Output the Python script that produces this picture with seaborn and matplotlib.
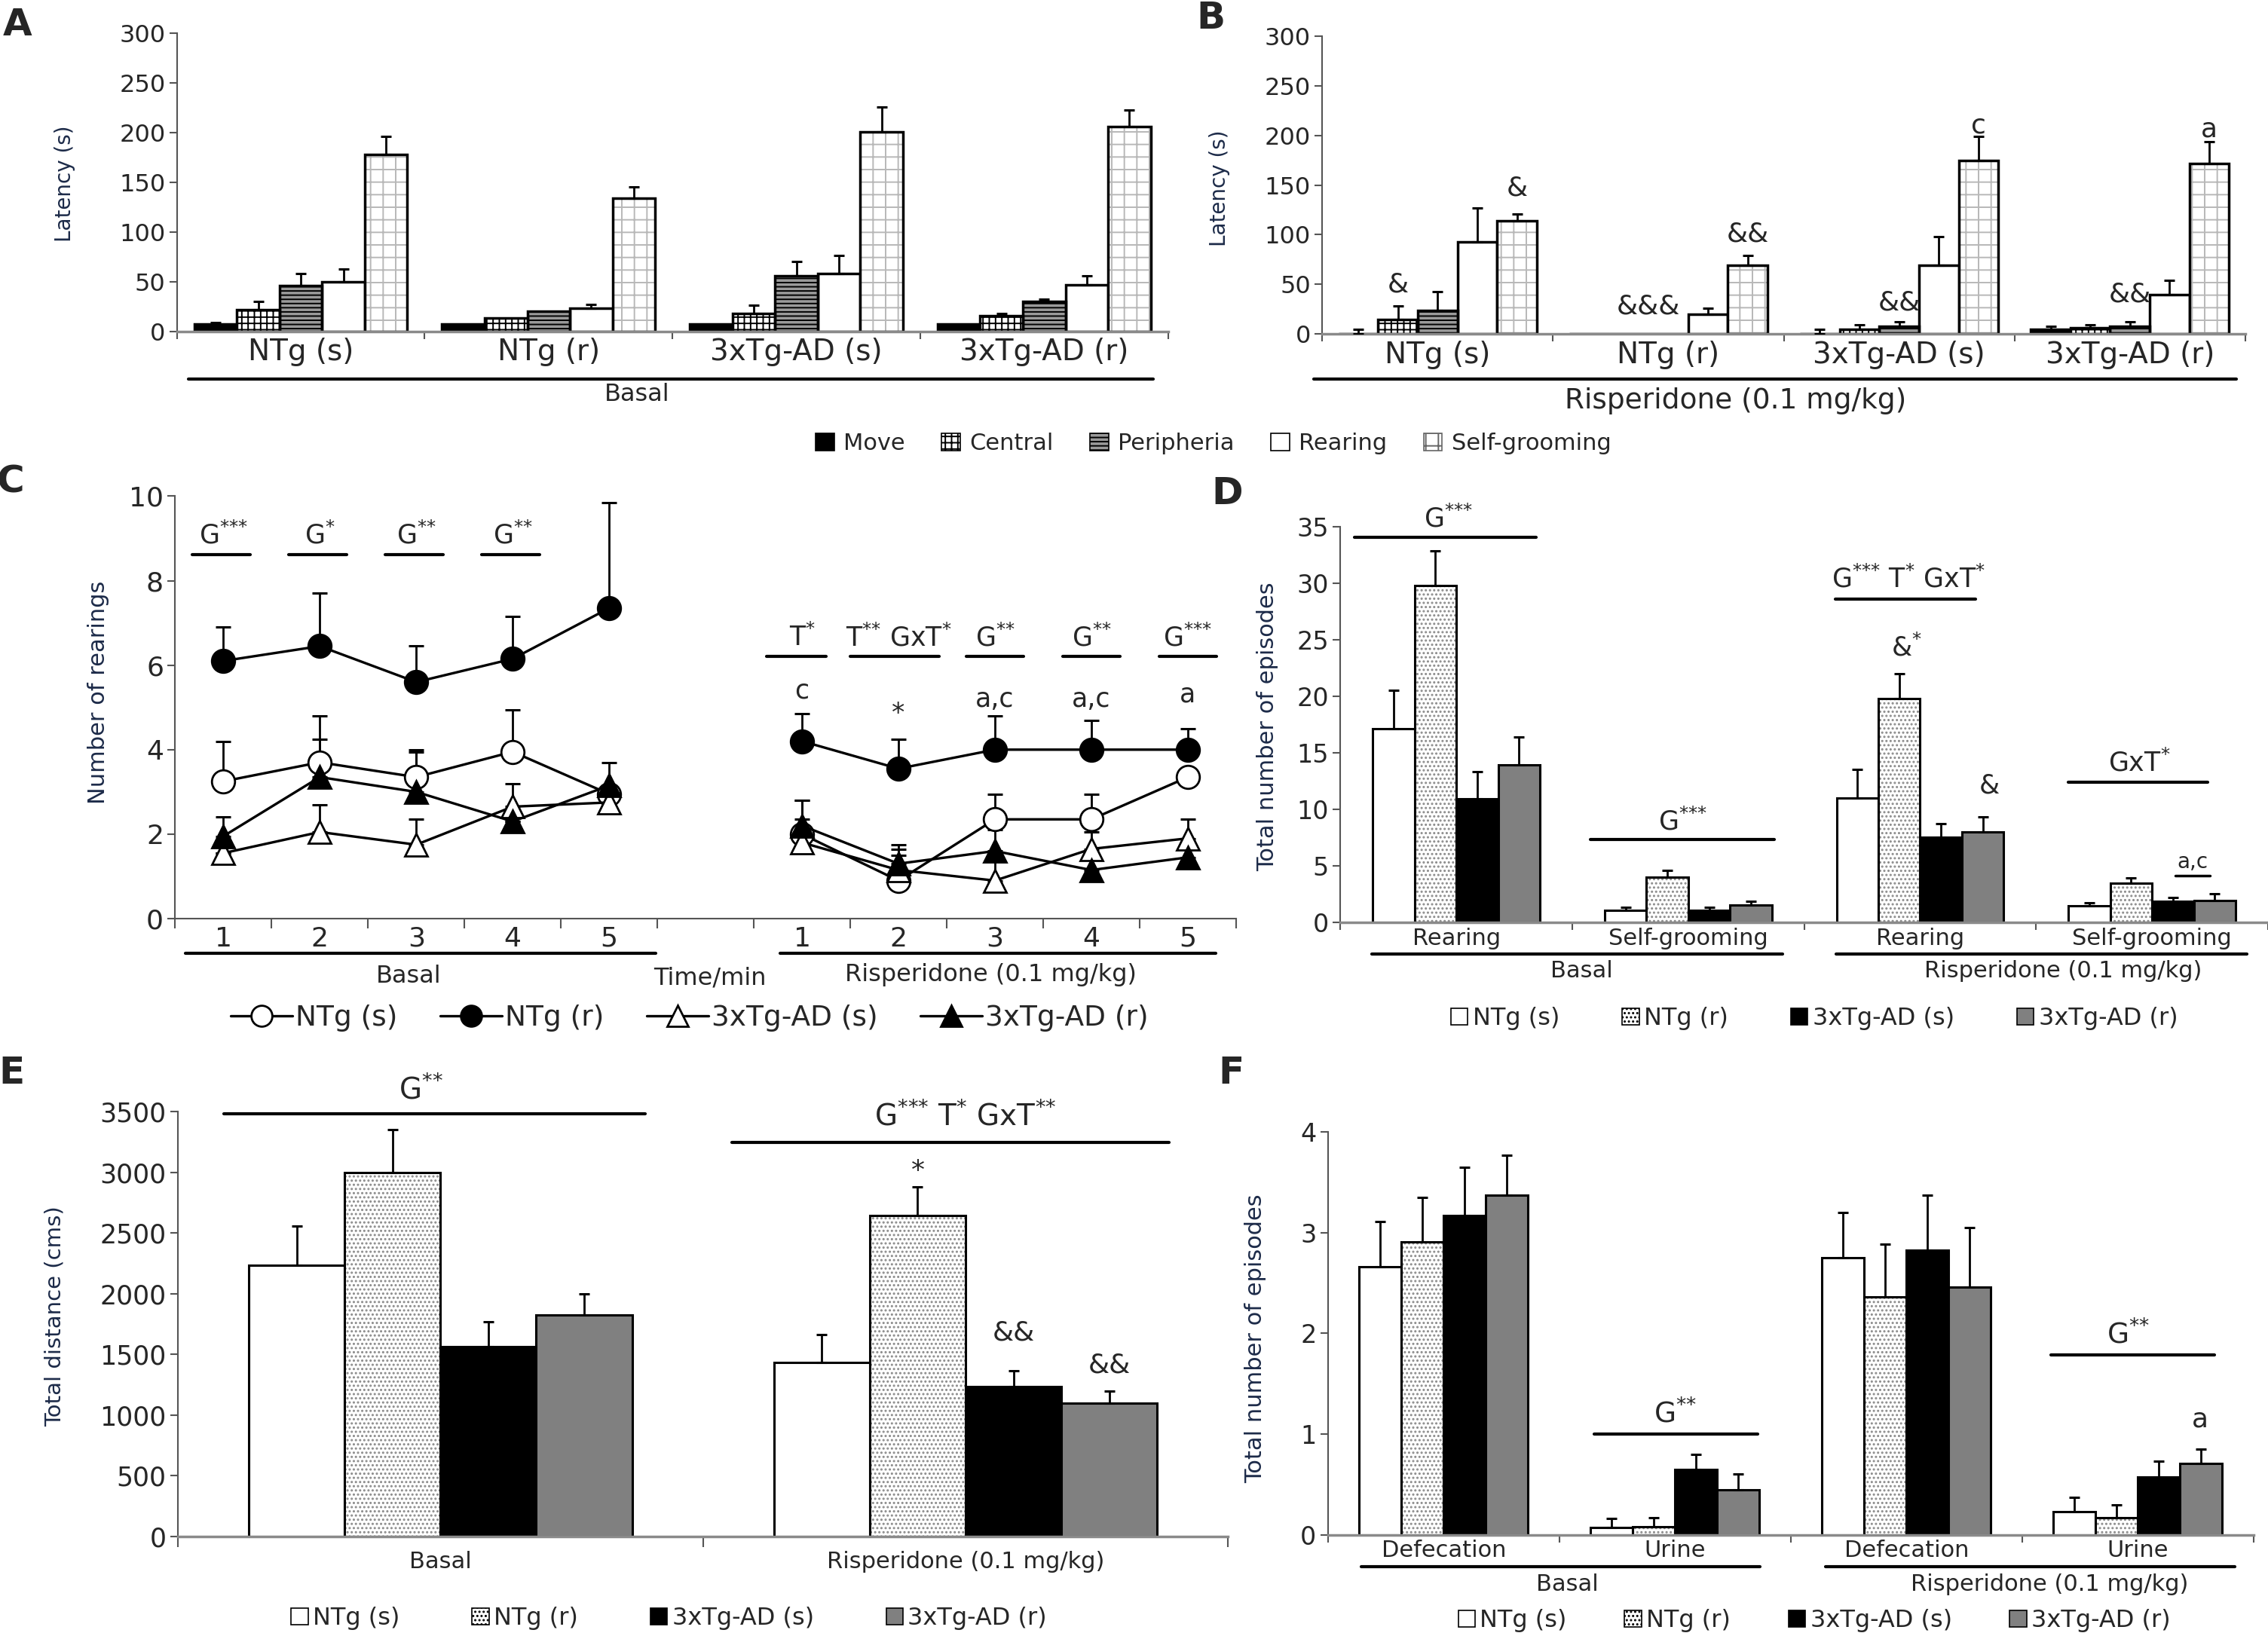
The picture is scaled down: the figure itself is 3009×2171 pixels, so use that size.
import numpy as np
import pandas as pd
import matplotlib
matplotlib.use("Agg")
import matplotlib.pyplot as plt
import seaborn as sns
from matplotlib.patches import Patch, Rectangle
from matplotlib.lines import Line2D

# -------------------------
# Data
# -------------------------
groups = ["NTg (s)", "NTg (r)", "3xTg-AD (s)", "3xTg-AD (r)"]
measures = ["Move", "Central", "Peripheria", "Rearing", "Self-grooming"]

# A - basal latencies, one value per group
basal_move = [7, 7, 7, 7]
basal_central = [22, 13, 18, 16]
basal_peripheria = [46, 20, 56, 30]
basal_rearing = [50, 23, 58, 47]
basal_selfgroom = [178, 134, 201, 206]
basal_move_err = [2, 0, 0, 0]
basal_central_err = [8, 0, 8, 2]
basal_peripheria_err = [12, 0, 14, 2]
basal_rearing_err = [13, 4, 18, 9]
basal_selfgroom_err = [18, 11, 25, 17]

# B - risperidone latencies
risp_move = [0.5, 0, 0.5, 5]
risp_central = [15, 0, 5, 6]
risp_peripheria = [24, 0, 8, 8]
risp_rearing = [93, 20, 69, 40]
risp_selfgroom = [114, 69, 175, 172]
risp_move_err = [4.5, 0, 4.5, 2.5]
risp_central_err = [13, 0, 4.5, 3]
risp_peripheria_err = [19, 0, 4, 4.5]
risp_rearing_err = [34, 6, 29, 14]
risp_selfgroom_err = [7, 10, 24, 22]

# C - rearings per minute
minutes = ["1", "2", "3", "4", "5"]
c_ntg_s_basal = [3.25, 3.7, 3.35, 3.95, 2.95]
c_ntg_r_basal = [6.1, 6.45, 5.6, 6.15, 7.35]
c_ad_s_basal = [1.55, 2.05, 1.75, 2.65, 2.75]
c_ad_r_basal = [1.95, 3.35, 3.0, 2.3, 3.15]
c_ntg_s_basal_err = [0.95, 1.1, 0.6, 1.0, 0.0]
c_ntg_r_basal_err = [0.8, 1.25, 0.85, 1.0, 2.5]
c_ad_s_basal_err = [0.0, 0.65, 0.6, 0.55, 0.0]
c_ad_r_basal_err = [0.45, 0.9, 1.0, 0.0, 0.55]
c_ntg_s_risp = [2.0, 0.9, 2.35, 2.35, 3.35]
c_ntg_r_risp = [4.2, 3.55, 4.0, 4.0, 4.0]
c_ad_s_risp = [1.8, 1.15, 0.9, 1.65, 1.9]
c_ad_r_risp = [2.2, 1.3, 1.6, 1.15, 1.45]
c_ntg_s_risp_err = [0.8, 0.6, 0.6, 0.6, 0.0]
c_ntg_r_risp_err = [0.65, 0.7, 0.8, 0.7, 0.5]
c_ad_s_risp_err = [0.55, 0.5, 0.5, 0.4, 0.45]
c_ad_r_risp_err = [0.6, 0.45, 0.5, 0.4, 0.3]

# D - total number of episodes
d_labels = ["Rearing", "Self-grooming", "Rearing", "Self-grooming"]
d_phase = ["Basal", "Basal", "Risperidone", "Risperidone"]
d_ntg_s = [17.1, 1.05, 11.0, 1.45]
d_ntg_r = [29.8, 4.0, 19.8, 3.45]
d_ad_s = [10.9, 1.05, 7.5, 1.85]
d_ad_r = [13.9, 1.55, 8.0, 1.95]
d_ntg_s_err = [3.4, 0.3, 2.5, 0.25]
d_ntg_r_err = [3.1, 0.6, 2.2, 0.5]
d_ad_s_err = [2.4, 0.3, 1.2, 0.35]
d_ad_r_err = [2.5, 0.3, 1.3, 0.6]

# E - total distance
e_labels = ["Basal", "Risperidone (0.1 mg/kg)"]
e_ntg_s = [2235, 1430]
e_ntg_r = [2995, 2645]
e_ad_s = [1560, 1235]
e_ad_r = [1825, 1095]
e_ntg_s_err = [320, 235]
e_ntg_r_err = [355, 235]
e_ad_s_err = [205, 130]
e_ad_r_err = [170, 100]

# F - defecation / urine
f_labels = ["Defecation", "Urine", "Defecation", "Urine"]
f_phase = ["Basal", "Basal", "Risperidone", "Risperidone"]
f_ntg_s = [2.66, 0.07, 2.75, 0.23]
f_ntg_r = [2.91, 0.08, 2.36, 0.17]
f_ad_s = [3.17, 0.65, 2.83, 0.57]
f_ad_r = [3.37, 0.45, 2.46, 0.71]
f_ntg_s_err = [0.45, 0.09, 0.45, 0.14]
f_ntg_r_err = [0.44, 0.09, 0.53, 0.13]
f_ad_s_err = [0.48, 0.15, 0.54, 0.16]
f_ad_r_err = [0.40, 0.15, 0.59, 0.14]

# -------------------------
# Style
# -------------------------
sns.set_theme(style="ticks")
plt.rcParams["font.family"] = ["DejaVu Sans"]
plt.rcParams["mathtext.default"] = "regular"
plt.rcParams["hatch.linewidth"] = 1.4

LABEL_COL = "#1c2a48"
AXIS_COL = "#555555"

# face, hatch, hatch colour
measure_styles = [("black", None, None),
                  ("white", "++", "black"),
                  ("#9a9a9a", "---", "black"),
                  ("white", None, None),
                  ("white", "+", "#b8b8b8")]
group_styles = [("white", None, None),
                ("white", "...", "#8a8a8a"),
                ("black", None, None),
                ("#808080", None, None)]


def st(n):
    # superscript asterisks without binary-operator spacing
    return "$^{" + "{*}" * n + "}$"


def long_frame(cats, names, values):
    rows = []
    for name, vals in zip(names, values):
        for c, v in zip(cats, vals):
            rows.append((c, name, v))
    return pd.DataFrame(rows, columns=["cat", "series", "value"])


def draw_bars(ax, cats, names, values, errs, styles, width, lw, capsize):
    df = long_frame(cats, names, values)
    pal = {n: s[0] for n, s in zip(names, styles)}
    sns.barplot(data=df, x="cat", y="value", hue="series", order=cats,
                hue_order=names, palette=pal, saturation=1, errorbar=None,
                width=width, legend=False, ax=ax)
    bars = list(ax.containers)
    for cont, (face, hatch, hcol) in zip(bars, styles):
        for p in cont.patches:
            p.set_facecolor(face)
            if hatch:
                p.set_hatch(hatch)
                p.set_edgecolor(hcol)
                p.set_linewidth(0)
                ax.add_patch(Rectangle(p.get_xy(), p.get_width(), p.get_height(),
                                       fill=False, edgecolor="black", linewidth=lw,
                                       zorder=p.get_zorder() + 0.1))
            else:
                p.set_edgecolor("black")
                p.set_linewidth(lw)
    for cont, err in zip(bars, errs):
        xs = np.array([p.get_x() + p.get_width() / 2 for p in cont.patches])
        ys = np.array([p.get_height() for p in cont.patches])
        e = np.asarray(err, float)
        m = e > 0
        if m.any():
            ax.errorbar(xs[m], ys[m], yerr=[np.zeros(m.sum()), e[m]], fmt="none",
                        ecolor="black", elinewidth=2, capsize=capsize, capthick=2.2,
                        zorder=4)
    return bars


def style_axes(ax, n, ylim, yticks, tick_fs, sep_len=7):
    ax.set_ylim(*ylim)
    ax.set_yticks(yticks)
    ax.set_xlim(-0.5, n - 0.5)
    ax.set_xticks(range(n))
    ax.set_xticklabels([])
    ax.set_xticks(np.arange(-0.5, n), minor=True)
    ax.tick_params(axis="x", which="major", length=0)
    ax.tick_params(axis="x", which="minor", length=sep_len, width=1.5,
                   color=AXIS_COL, direction="out")
    ax.tick_params(axis="y", labelsize=tick_fs, length=7, width=1.5,
                   color=AXIS_COL, direction="out", pad=4)
    ax.set_xlabel("")
    ax.set_ylabel("")
    for s in ["top", "right"]:
        ax.spines[s].set_visible(False)
    ax.spines["left"].set_color(AXIS_COL)
    ax.spines["left"].set_linewidth(1.5)
    ax.spines["bottom"].set_color("#8a8a8a")
    ax.spines["bottom"].set_linewidth(2.5)


def under_line(ax, x0, x1, y, lw=2.5):
    ax.plot([x0, x1], [y, y], color="black", lw=lw, transform=ax.transAxes,
            clip_on=False)


def sig_line(ax, x0, x1, y, lw=2.5):
    ax.plot([x0, x1], [y, y], color="black", lw=lw, clip_on=False)


fig = plt.figure(figsize=(30.09, 21.71), dpi=100)

# -------------------------
# Panel A
# -------------------------
ax_a = fig.add_axes([0.078, 0.7975, 0.437, 0.1822])
draw_bars(ax_a, groups, measures,
          [basal_move, basal_central, basal_peripheria, basal_rearing, basal_selfgroom],
          [basal_move_err, basal_central_err, basal_peripheria_err, basal_rearing_err,
           basal_selfgroom_err],
          measure_styles, 0.86, 2.5, 5)
style_axes(ax_a, 4, (0, 300), range(0, 301, 50), 23)
for i, g in enumerate(groups):
    ax_a.text(i, -0.07, g, transform=ax_a.get_xaxis_transform(), ha="center",
              va="center", fontsize=28)
under_line(ax_a, 0.012, 0.985, -0.16, 3)
ax_a.text(0.464, -0.212, "Basal", transform=ax_a.transAxes, ha="center",
          va="center", fontsize=23)

# -------------------------
# Panel B
# -------------------------
ax_b = fig.add_axes([0.583, 0.7958, 0.407, 0.1822])
b_bars = draw_bars(ax_b, groups, measures,
                   [risp_move, risp_central, risp_peripheria, risp_rearing, risp_selfgroom],
                   [risp_move_err, risp_central_err, risp_peripheria_err, risp_rearing_err,
                    risp_selfgroom_err],
                   measure_styles, 0.86, 2.5, 5)
style_axes(ax_b, 4, (0, 300), range(0, 301, 50), 23)
for i, g in enumerate(groups):
    ax_b.text(i, -0.07, g, transform=ax_b.get_xaxis_transform(), ha="center",
              va="center", fontsize=28)
under_line(ax_b, -0.009, 0.99, -0.15, 3)
ax_b.text(0.448, -0.225, "Risperidone (0.1 mg/kg)", transform=ax_b.transAxes,
          ha="center", va="center", fontsize=27)
b_marks = [(0, 1, "&", 50, 0), (0, 4, "&", 147, 0), (1, 2, "&&&", 28, -0.5),
           (1, 4, "&&", 101, 0), (2, 2, "&&", 32, 0), (2, 4, "c", 210, 0),
           (3, 2, "&&", 40, 0), (3, 4, "a", 206, 0)]
for gi, mi, txt, yv, dx in b_marks:
    p = b_bars[mi].patches[gi]
    ax_b.text(p.get_x() + p.get_width() * (0.5 + dx), yv, txt, ha="center",
              va="center", fontsize=26)

# legend for A/B
ab_handles = [Patch(facecolor=f, edgecolor=(h_c if h else "black"), hatch=h, linewidth=1.2)
              for f, h, h_c in measure_styles]
ab_handles[4] = Patch(facecolor="white", edgecolor="#666666", hatch="+", linewidth=1.2)
fig.legend(ab_handles, measures, loc="center", bbox_to_anchor=(0.535, 0.729),
           ncol=5, frameon=False, fontsize=22, handlelength=0.8, handleheight=0.8,
           handletextpad=0.4, columnspacing=1.6)

# -------------------------
# Panel C
# -------------------------
ax_c = fig.add_axes([0.0772, 0.4385, 0.4678, 0.2582])
pos_basal = [0, 1, 2, 3, 4]
pos_risp = [6, 7, 8, 9, 10]
c_series = [
    ("NTg (s)", c_ntg_s_basal, c_ntg_s_risp, c_ntg_s_basal_err, c_ntg_s_risp_err, "o", "white"),
    ("NTg (r)", c_ntg_r_basal, c_ntg_r_risp, c_ntg_r_basal_err, c_ntg_r_risp_err, "o", "black"),
    ("3xTg-AD (s)", c_ad_s_basal, c_ad_s_risp, c_ad_s_basal_err, c_ad_s_risp_err, "^", "white"),
    ("3xTg-AD (r)", c_ad_r_basal, c_ad_r_risp, c_ad_r_basal_err, c_ad_r_risp_err, "^", "black"),
]
for name, vb, vr, eb, er, mk, mf in c_series:
    df = pd.DataFrame({"pos": pos_basal + pos_risp, "value": vb + vr,
                       "phase": ["Basal"] * 5 + ["Risperidone"] * 5})
    ax_c.errorbar(df["pos"], df["value"],
                  yerr=[np.zeros(10), np.array(eb + er, float)], fmt="none",
                  ecolor="black", elinewidth=2, capsize=7, capthick=2.2, zorder=2)
    sns.lineplot(data=df, x="pos", y="value", units="phase", estimator=None,
                 color="black", linewidth=2.4, marker=mk, markersize=22,
                 markerfacecolor=mf, markeredgecolor="black", markeredgewidth=2,
                 legend=False, ax=ax_c, zorder=3)
ax_c.set_ylim(0, 10)
ax_c.set_yticks(range(0, 11, 2))
ax_c.set_xlim(-0.5, 10.5)
ax_c.set_xticks(pos_basal + pos_risp)
ax_c.set_xticklabels([])
ax_c.set_xticks(np.arange(-0.5, 11), minor=True)
ax_c.tick_params(axis="x", which="major", length=0)
ax_c.tick_params(axis="x", which="minor", length=9, width=1.5, color=AXIS_COL)
ax_c.tick_params(axis="y", labelsize=26, length=7, width=1.5, color=AXIS_COL, pad=4)
ax_c.set_xlabel("")
ax_c.set_ylabel("")
for s in ["top", "right"]:
    ax_c.spines[s].set_visible(False)
for s in ["left", "bottom"]:
    ax_c.spines[s].set_color(AXIS_COL)
    ax_c.spines[s].set_linewidth(1.5)
for p, m in zip(pos_basal + pos_risp, minutes + minutes):
    ax_c.text(p, -0.048, m, transform=ax_c.get_xaxis_transform(), ha="center",
              va="center", fontsize=26)
under_line(ax_c, 0.0095, 0.453, -0.082, 3)
under_line(ax_c, 0.570, 0.981, -0.082, 3)
ax_c.text(0.22, -0.136, "Basal", transform=ax_c.transAxes, ha="center", va="center",
          fontsize=23)
ax_c.text(0.769, -0.132, "Risperidone (0.1 mg/kg)", transform=ax_c.transAxes,
          ha="center", va="center", fontsize=23)
fig.text(0.313, 0.4023, "Time/min", ha="center", va="center", fontsize=23)
c_basal_sig = [(0, "G" + st(3)), (1, "G" + st(1)), (2, "G" + st(2)), (3, "G" + st(2))]
for p, t in c_basal_sig:
    sig_line(ax_c, p - 0.32, p + 0.28, 8.62, 3)
    ax_c.text(p, 8.75, t, ha="center", va="bottom", fontsize=25)
c_risp_sig = [(6, "T" + st(1), -0.37, 0.25),
              (7, "T" + st(2) + " GxT" + st(1), -0.5, 0.42),
              (8, "G" + st(2), -0.3, 0.3), (9, "G" + st(2), -0.3, 0.3),
              (10, "G" + st(3), -0.3, 0.3)]
for p, t, a, b in c_risp_sig:
    sig_line(ax_c, p + a, p + b, 6.2, 3)
    ax_c.text(p, 6.33, t, ha="center", va="bottom", fontsize=25)
c_letters = [(6, "c", 5.4), (7, "*", 4.85), (8, "a,c", 5.2), (9, "a,c", 5.2), (10, "a", 5.3)]
for p, t, yv in c_letters:
    ax_c.text(p, yv, t, ha="center", va="center", fontsize=25)
c_handles = [Line2D([0], [0], color="black", lw=2.4, marker=s[5], markersize=20,
                    markerfacecolor=s[6], markeredgecolor="black", markeredgewidth=2)
             for s in c_series]
fig.legend(c_handles, [s[0] for s in c_series], loc="center",
           bbox_to_anchor=(0.304, 0.3775), ncol=4, frameon=False, fontsize=27,
           handlelength=2.2, handletextpad=0.1, columnspacing=1.5)

# -------------------------
# Panel D
# -------------------------
ax_d = fig.add_axes([0.591, 0.4363, 0.409, 0.2417])
d_keys = [f"{p}|{l}" for p, l in zip(d_phase, d_labels)]
draw_bars(ax_d, d_keys, groups, [d_ntg_s, d_ntg_r, d_ad_s, d_ad_r],
          [d_ntg_s_err, d_ntg_r_err, d_ad_s_err, d_ad_r_err],
          group_styles, 0.72, 2.2, 5)
style_axes(ax_d, 4, (0, 35), range(0, 36, 5), 24)
for i, l in enumerate(d_labels):
    ax_d.text(i, -0.042, l, transform=ax_d.get_xaxis_transform(), ha="center",
              va="center", fontsize=22)
under_line(ax_d, 0.0335, 0.477, -0.08, 3)
under_line(ax_d, 0.534, 0.977, -0.08, 3)
ax_d.text(0.26, -0.124, "Basal", transform=ax_d.transAxes, ha="center", va="center",
          fontsize=22)
ax_d.text(0.779, -0.124, "Risperidone (0.1 mg/kg)", transform=ax_d.transAxes,
          ha="center", va="center", fontsize=22)
sig_line(ax_d, -0.44, 0.345, 34.1, 3)
ax_d.text(-0.035, 34.5, "G" + st(3), ha="center", va="bottom", fontsize=25)
sig_line(ax_d, 0.578, 1.37, 7.3, 3)
ax_d.text(0.975, 7.7, "G" + st(3), ha="center", va="bottom", fontsize=25)
sig_line(ax_d, 1.635, 2.24, 28.6, 3)
ax_d.text(1.95, 29.2, "G" + st(3) + " T" + st(1) + " GxT" + st(1), ha="center",
          va="bottom", fontsize=25)
ax_d.text(1.94, 24.3, "&" + st(1), ha="center", va="center", fontsize=25)
ax_d.text(2.30, 12.1, "&", ha="center", va="center", fontsize=25)
sig_line(ax_d, 2.64, 3.24, 12.4, 3)
ax_d.text(2.945, 12.9, "GxT" + st(1), ha="center", va="bottom", fontsize=25)
sig_line(ax_d, 3.1, 3.25, 4.15, 2.5)
ax_d.text(3.175, 4.4, "a,c", ha="center", va="bottom", fontsize=20)

grp_handles = [Patch(facecolor=f, edgecolor="black", hatch=h, linewidth=1.2)
               for f, h, _ in group_styles]
fig.legend(grp_handles, groups, loc="center", bbox_to_anchor=(0.80, 0.3775),
           ncol=4, frameon=False, fontsize=23, handlelength=0.7, handleheight=0.7,
           handletextpad=0.2, columnspacing=2.6)

# -------------------------
# Panel E
# -------------------------
ax_e = fig.add_axes([0.0784, 0.061, 0.4631, 0.2595])
draw_bars(ax_e, e_labels, groups, [e_ntg_s, e_ntg_r, e_ad_s, e_ad_r],
          [e_ntg_s_err, e_ntg_r_err, e_ad_s_err, e_ad_r_err],
          group_styles, 0.73, 2.2, 5)
style_axes(ax_e, 2, (0, 3500), range(0, 3501, 500), 25, sep_len=10)
for i, l in enumerate(e_labels):
    ax_e.text(i, -0.06, l, transform=ax_e.get_xaxis_transform(), ha="center",
              va="center", fontsize=22)
sig_line(ax_e, -0.412, 0.39, 3480, 3)
ax_e.text(-0.037, 3560, "G" + st(2), ha="center", va="bottom", fontsize=28)
sig_line(ax_e, 0.555, 1.387, 3245, 3)
ax_e.text(1.0, 3340, "G" + st(3) + " T" + st(1) + " GxT" + st(2), ha="center",
          va="bottom", fontsize=28)
ax_e.text(0.909, 3010, "*", ha="center", va="center", fontsize=26)
ax_e.text(1.091, 1680, "&&", ha="center", va="center", fontsize=26)
ax_e.text(1.274, 1410, "&&", ha="center", va="center", fontsize=26)
fig.legend(grp_handles, groups, loc="center", bbox_to_anchor=(0.295, 0.0106),
           ncol=4, frameon=False, fontsize=23, handlelength=0.7, handleheight=0.7,
           handletextpad=0.2, columnspacing=3.0)

# -------------------------
# Panel F
# -------------------------
ax_f = fig.add_axes([0.5855, 0.0619, 0.4081, 0.2461])
f_keys = [f"{p}|{l}" for p, l in zip(f_phase, f_labels)]
draw_bars(ax_f, f_keys, groups, [f_ntg_s, f_ntg_r, f_ad_s, f_ad_r],
          [f_ntg_s_err, f_ntg_r_err, f_ad_s_err, f_ad_r_err],
          group_styles, 0.73, 2.2, 5)
style_axes(ax_f, 4, (0, 4), range(0, 5), 24)
for i, l in enumerate(f_labels):
    ax_f.text(i, -0.04, l, transform=ax_f.get_xaxis_transform(), ha="center",
              va="center", fontsize=22)
under_line(ax_f, 0.036, 0.467, -0.079, 3)
under_line(ax_f, 0.5375, 0.98, -0.079, 3)
ax_f.text(0.259, -0.123, "Basal", transform=ax_f.transAxes, ha="center", va="center",
          fontsize=22)
ax_f.text(0.78, -0.123, "Risperidone (0.1 mg/kg)", transform=ax_f.transAxes,
          ha="center", va="center", fontsize=22)
sig_line(ax_f, 0.65, 1.356, 1.0, 3)
ax_f.text(1.0, 1.05, "G" + st(2), ha="center", va="bottom", fontsize=27)
sig_line(ax_f, 2.625, 3.33, 1.79, 3)
ax_f.text(2.96, 1.84, "G" + st(2), ha="center", va="bottom", fontsize=27)
ax_f.text(3.27, 1.15, "a", ha="center", va="center", fontsize=26)
fig.legend(grp_handles, groups, loc="center", bbox_to_anchor=(0.80, 0.0093),
           ncol=4, frameon=False, fontsize=23, handlelength=0.7, handleheight=0.7,
           handletextpad=0.2, columnspacing=2.4)

# -------------------------
# Axis titles and panel letters
# -------------------------
ylabels = [(0.0287, 0.8877, "Latency (s)", 20), (0.5376, 0.885, "Latency (s)", 20),
           (0.0434, 0.577, "Number of rearings", 22),
           (0.5587, 0.556, "Total number of episodes", 22),
           (0.0242, 0.1954, "Total distance (cms)", 21),
           (0.5536, 0.182, "Total number of episodes", 22)]
for x, y, t, fs in ylabels:
    fig.text(x, y, t, rotation=90, ha="center", va="center", fontsize=fs,
             color=LABEL_COL)

letters = [(0.0077, 0.985, "A"), (0.534, 0.989, "B"), (0.0045, 0.7056, "C"),
           (0.541, 0.6985, "D"), (0.005, 0.344, "E"), (0.543, 0.344, "F")]
for x, y, t in letters:
    fig.text(x, y, t, ha="center", va="center", fontsize=36, fontweight="bold")

fig.savefig("out.png", dpi=100)
